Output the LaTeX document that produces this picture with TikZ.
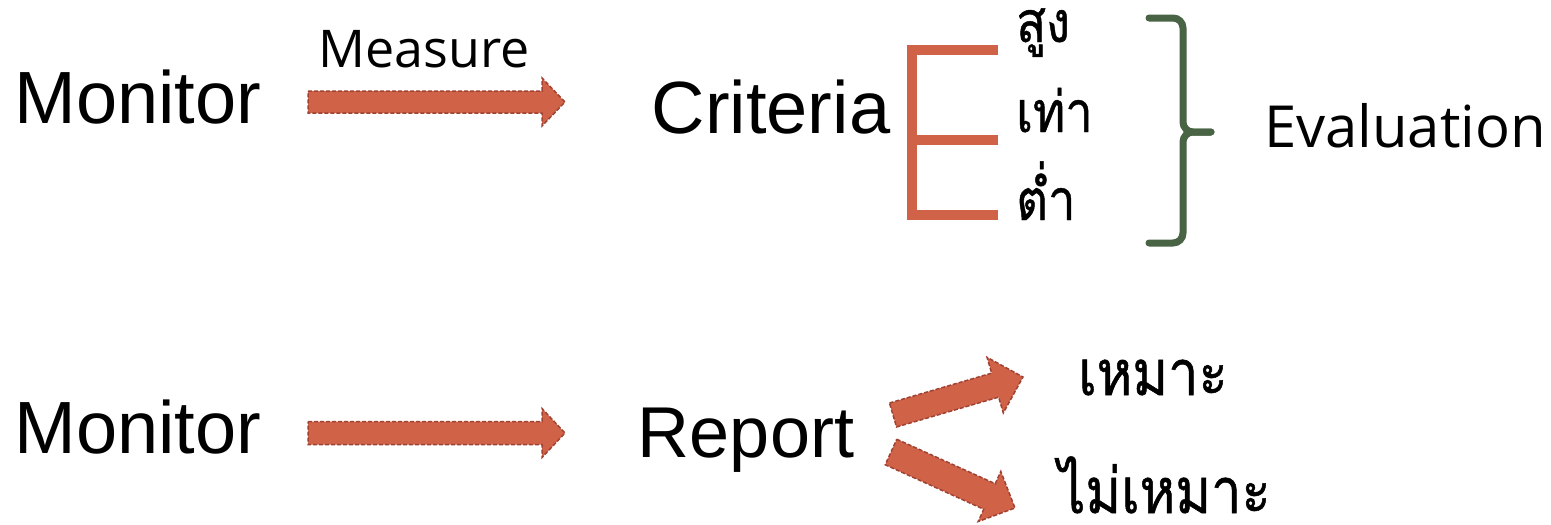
\documentclass[tikz,border=0pt]{standalone}
\usepackage{fontspec}
\setmainfont{Liberation Sans}
\newfontfamily\thaifont[Script=Thai, FakeStretch=0.86, FakeBold=0.8]{Loma}
\newfontfamily\lightfont{Open Sans}
\usetikzlibrary{calc}
\definecolor{arrowfill}{RGB}{208,98,72}
\definecolor{arrowline}{RGB}{160,66,50}
\definecolor{brackcol}{RGB}{208,98,72}
\definecolor{bracecol}{RGB}{72,100,68}
\tikzset{
  big/.style={font=\fontsize{74}{80}\selectfont, inner sep=0pt, anchor=base},
  thin/.style={font=\lightfont\fontsize{#1}{#1}\selectfont, inner sep=0pt, anchor=base},
  thai/.style={font=\thaifont\fontsize{#1}{#1}\selectfont, inner sep=0pt, anchor=base west},
  barrow/.style={fill=arrowfill, draw=arrowline, line width=1.5pt, dash pattern=on 4pt off 2pt, line join=miter},
  ebrack/.style={draw=brackcol, line width=10pt, line join=miter},
  gbrace/.style={draw=bracecol, line width=7pt, rounded corners=10pt, line cap=round}
}
\newcommand\blockarrow[5]{%
  \draw[barrow] ($(#1)!#3!90:(#2)$) -- ($(#2)!#5!(#1)!#3!-90:(#1)$) -- ($(#2)!#5!(#1)!#4!-90:(#1)$) -- (#2) -- ($(#2)!#5!(#1)!#4!90:(#1)$) -- ($(#2)!#5!(#1)!#3!90:(#1)$) -- ($(#1)!#3!-90:(#2)$) -- cycle;}
\begin{document}
\begin{tikzpicture}[x=1pt,y=-1pt]
\useasboundingbox (0,0) rectangle (1551,525);
% texts
\node[big] (mon1) at (138,123) {Monitor};
\node[big] (mon2) at (138,453) {Monitor};
\node[big] (crit) at (771,133) {Criteria};
\node[big, font=\fontsize{72}{80}\selectfont] (rep) at (746,457) {Report};
\node[thin=52] (meas) at (424,67) {Measure};
\node[thin=58] (eval) at (1405,147) {Evaluation};
\node[thai=57] (hi) at (1016,42) {สูง};
\node[thai=57] (eq) at (1016,132) {เท่า};
\node[thai=57] (lo) at (1016,220) {ต่ำ};
\node[thai=63] (ok) at (1078,395) {เหมาะ};
\node[thai=63, text depth=0pt] (nok) at (1058,513) {ไม่เหมาะ};
% arrow coordinates
\coordinate (a1) at (308,102);
\coordinate (b1) at (565,102);
\coordinate (a2) at (308,433);
\coordinate (b2) at (565,433);
\coordinate (a3) at (893,415);
\coordinate (b3) at (1023,377);
\coordinate (a4) at (891,452);
\coordinate (b4) at (1015,508);
\blockarrow{a1}{b1}{11pt}{24pt}{23pt}
\blockarrow{a2}{b2}{11.5pt}{24.5pt}{23pt}
\blockarrow{a3}{b3}{12.5pt}{29pt}{29pt}
\blockarrow{a4}{b4}{14pt}{27.5pt}{28pt}
% E bracket
\coordinate (e1) at (998,50);
\coordinate (e2) at (998,140);
\coordinate (e3) at (998,215);
\draw[ebrack] (e1) -- (912,50) -- (912,215) -- (e3);
\draw[ebrack] (912,140) -- (e2);
% brace
\coordinate (bt) at (1149,18);
\coordinate (bm) at (1211,132);
\coordinate (bb) at (1149,243);
\draw[gbrace] (bt) -- (1183,18) -- (1183,132) -- (bm);
\draw[gbrace] (bm) -- (1183,132) -- (1183,243) -- (bb);
\end{tikzpicture}
\end{document}
